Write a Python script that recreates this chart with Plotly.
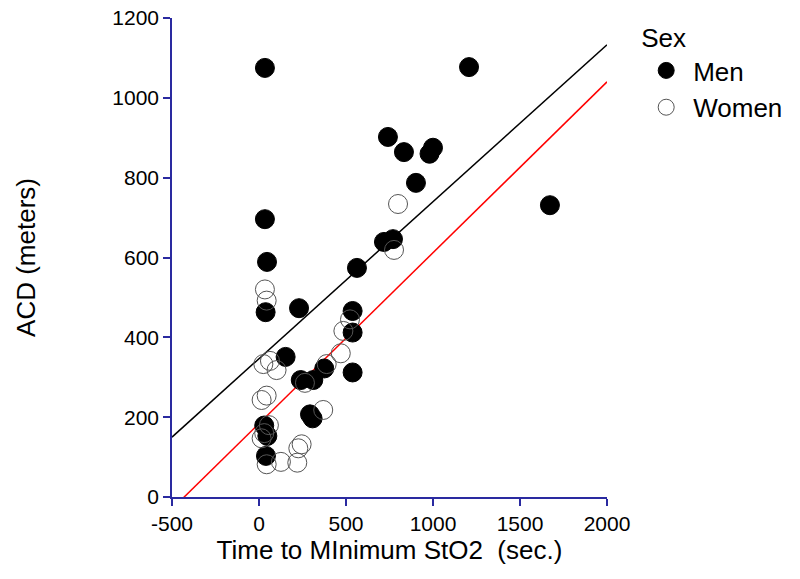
import plotly.graph_objects as go

# Men (filled)
men_x = [34, 34, 46, 38, 230, 538, 538, 153, 375, 538, 240, 312, 293, 308, 30, 48, 40,
         563, 741, 833, 980, 1000, 902, 718, 770, 1207, 1672]
men_y = [1075, 696, 589, 463, 473, 466, 412, 351, 322, 312, 293, 293, 207, 197, 179, 153, 103,
         574, 902, 864, 860, 875, 787, 639, 646, 1077, 731]

# Women (open)
women_x = [34, 44, 523, 485, 470, 389, 25, 63, 101, 264, 44, 15, 369, 57, 15, 30, 245, 226,
           44, 126, 220, 799, 776]
women_y = [520, 492, 445, 416, 360, 333, 333, 341, 318, 286, 254, 243, 218, 180, 147, 160, 132, 122,
           82, 88, 86, 734, 619]

# Fit lines
line_x = [-500, 2000]
black_y = [150, 1133]
red_y = [-30, 1040]

x_ticks = [-500, 0, 500, 1000, 1500, 2000]
x_ticktext = ["-500", "0", "500", "1000", "1500", "2000"]
y_ticks = [0, 200, 400, 600, 800, 1000, 1200]

axis_col = "#2a2aa0"
font_fam = "Arial, Liberation Sans, sans-serif"

fig = go.Figure()
fig.add_trace(go.Scatter(x=line_x, y=black_y, mode="lines",
                         line=dict(color="black", width=1.5), showlegend=False))
fig.add_trace(go.Scatter(x=line_x, y=red_y, mode="lines",
                         line=dict(color="red", width=1.5), showlegend=False))
fig.add_trace(go.Scatter(x=men_x, y=men_y, mode="markers", name="Men",
                         marker=dict(symbol="circle", size=19, color="black",
                                     line=dict(color="black", width=1))))
fig.add_trace(go.Scatter(x=women_x, y=women_y, mode="markers", name="Women",
                         marker=dict(symbol="circle-open", size=19, color="#555555",
                                     line=dict(color="#555555", width=1))))

fig.update_layout(
    width=800, height=579,
    margin=dict(l=172, r=193, t=18, b=82, autoexpand=False),
    paper_bgcolor="white", plot_bgcolor="white",
    font=dict(family=font_fam, color="black"),
    legend=dict(title=dict(text="Sex", font=dict(size=26)), font=dict(size=26),
                x=1.074, y=1.01, xanchor="left", yanchor="top",
                itemwidth=44, tracegroupgap=0),
    xaxis=dict(range=[-500, 2000], tickvals=x_ticks, ticktext=x_ticktext,
               showline=True, linecolor=axis_col, linewidth=1.5,
               ticks="outside", tickcolor=axis_col, ticklen=7, tickwidth=1.5,
               showgrid=False, zeroline=False, ticklabeloverflow="allow",
               tickfont=dict(size=21, color="black"),
               title=dict(text="Time to MInimum StO2  (sec.)", font=dict(size=26), standoff=5)),
    yaxis=dict(range=[0, 1200], tickvals=y_ticks,
               showline=True, linecolor=axis_col, linewidth=1.5,
               ticks="outside", tickcolor=axis_col, ticklen=7, tickwidth=1.5,
               showgrid=False, zeroline=False, ticklabeloverflow="allow",
               tickfont=dict(size=21, color="black"),
               title=dict(text="ACD (meters)", font=dict(size=26), standoff=69)),
)

fig.write_html("out.html",
               config={"displayModeBar": False},
               post_script="document.body.style.margin='0';document.body.style.padding='0';")
